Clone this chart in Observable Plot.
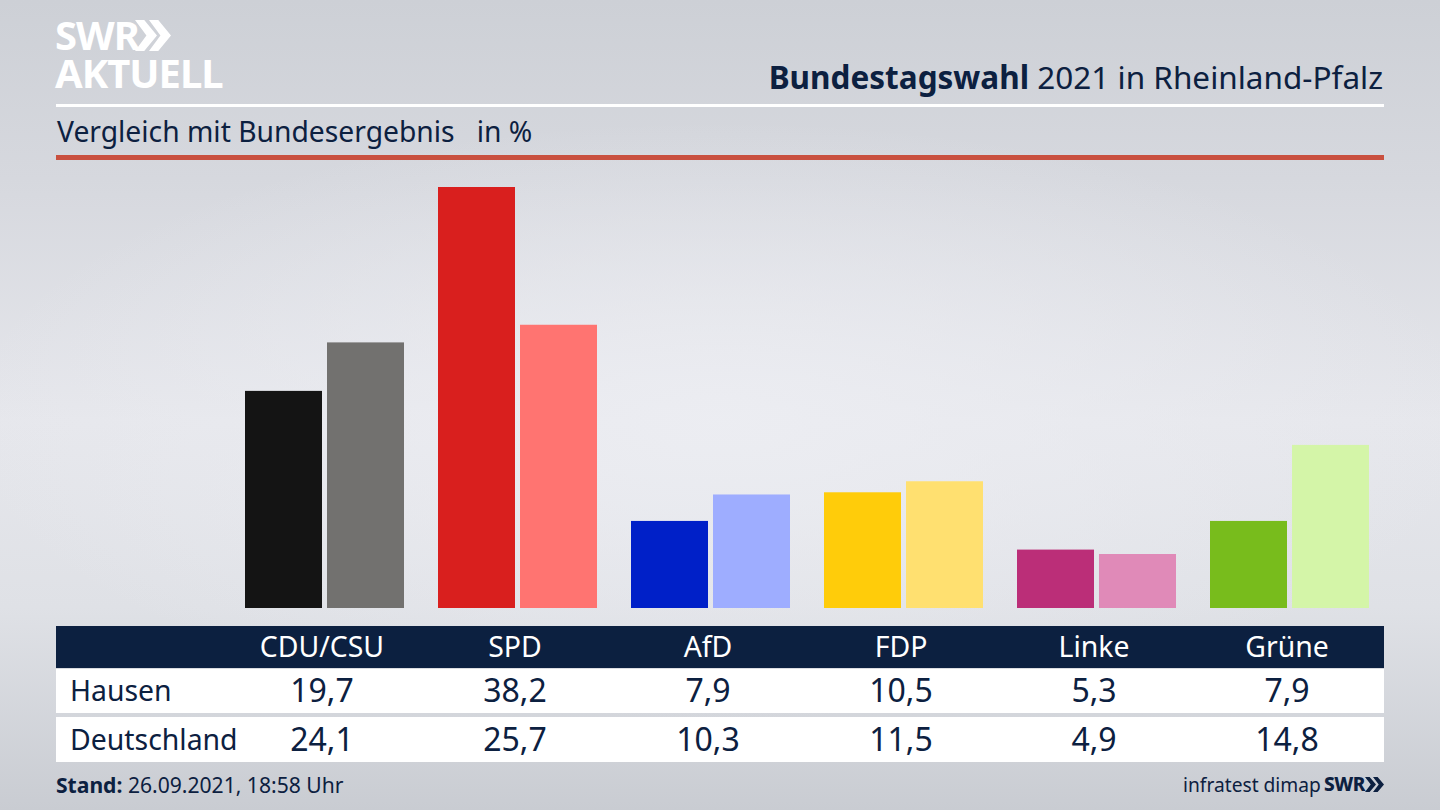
<!DOCTYPE html>
<html lang="de">
<head>
<meta charset="utf-8">
<script src="https://cdn.jsdelivr.net/npm/d3@7"></script>
<script src="https://cdn.jsdelivr.net/npm/@observablehq/plot@0.6"></script>
<style>
html,body{margin:0;padding:0;width:1440px;height:810px;overflow:hidden}
body{position:relative;font-family:"Noto Sans",sans-serif;color:#0c2040;
background:
 radial-gradient(ellipse 760px 300px at 50% 52%, rgba(236,237,242,.95) 0%, rgba(236,237,242,0) 100%),
 linear-gradient(180deg,#cdd0d6 0%,#d6d8de 22%,#e6e7ec 52%,#dfe1e6 75%,#c9ccd2 100%);}
.a{position:absolute;white-space:pre;line-height:1}
.band{position:absolute;left:56px;width:1328px}
#chart{position:absolute;left:0;top:0}
#chart svg{display:block}
.chev{position:absolute;background:#fff;clip-path:polygon(0 0,42% 0,100% 50%,42% 100%,0 100%,52% 50%)}
</style>
</head>
<body>
<div class="a" style="left:55px;top:16px;line-height:38px;font-size:40px;font-weight:700;color:#fff;letter-spacing:-1px">SWR
AKTUELL</div>
<div class="chev" style="left:135px;top:20px;width:22px;height:31px"></div>
<div class="chev" style="left:149px;top:20px;width:22px;height:31px"></div>
<div class="a" style="right:57px;top:61px;font-size:31.5px"><b>Bundestagswahl</b> 2021 in Rheinland-Pfalz</div>
<div class="band" style="top:104px;height:3px;background:#fff"></div>
<div class="a" style="left:57px;top:117px;font-size:28.25px">Vergleich mit Bundesergebnis   in %</div>
<div class="band" style="top:155px;height:5px;background:#c9503f"></div>
<div class="band" style="top:626px;height:42px;background:#0c2040"></div>
<div class="band" style="top:669px;height:44px;background:#fff"></div>
<div class="band" style="top:717px;height:45px;background:#fff"></div>
<div class="a" id="r0" style="left:70px;top:676px;font-size:28.4px"></div>
<div class="a" id="r1" style="left:70px;top:725px;font-size:28.4px"></div>
<div class="a" style="left:56px;top:774px;font-size:21.1px"><b>Stand:</b> 26.09.2021, 18:58 Uhr</div>
<div class="a" style="left:1183px;top:775px;font-size:19.2px">infratest dimap</div>
<div class="a" style="left:1324px;top:775px;font-size:19px;font-weight:800;letter-spacing:-.5px">SWR</div>
<div class="chev" style="left:1365px;top:777px;width:11px;height:15px;background:#0c2040"></div>
<div class="chev" style="left:1373px;top:777px;width:11px;height:15px;background:#0c2040"></div>
<div id="chart"></div>
<script>
const parties = ["CDU/CSU", "SPD", "AfD", "FDP", "Linke", "Grüne"];
const seriesNames = ["Hausen", "Deutschland"];
const hausen = [19.7, 38.2, 7.9, 10.5, 5.3, 7.9];
const deutschland = [24.1, 25.7, 10.3, 11.5, 4.9, 14.8];
const coloursHausen = ["#141414", "#d91f1e", "#0020c8", "#ffcc0a", "#bb2e78", "#78bc1c"];
const coloursDeutschland = ["#72716f", "#ff7471", "#9eadff", "#ffe070", "#e08ab8", "#d4f5a8"];

document.getElementById("r0").textContent = seriesNames[0];
document.getElementById("r1").textContent = seriesNames[1];

const rows = parties.flatMap((party, i) => [
  {party, series: seriesNames[0], value: hausen[i], colour: coloursHausen[i]},
  {party, series: seriesNames[1], value: deutschland[i], colour: coloursDeutschland[i]}
]);
const label = d => d.value.toFixed(1).replace(".", ",");
const ink = "#0c2040";

const chart = Plot.plot({
  width: 1440,
  height: 810,
  marginTop: 187,
  marginBottom: 202,
  marginLeft: 228,
  marginRight: 54,
  style: {background: "transparent", fontFamily: "'Noto Sans',sans-serif"},
  fx: {domain: parties, paddingInner: 0, paddingOuter: 0, round: false, label: null},
  x: {domain: seriesNames, paddingInner: 5 / 82, paddingOuter: 34 / 164, round: false, axis: null},
  y: {domain: [0, 38.2], axis: null},
  marks: [
    Plot.barY(rows, {fx: "party", x: "series", y: "value", fill: "colour"}),
    Plot.axisFx({anchor: "bottom", tickSize: 0, tickPadding: 0, dy: 39, dx: -3, fontSize: 28.4, color: "#fff", fill: "#fff", label: null, lineAnchor: "middle"}),
    Plot.text(rows.filter(d => d.series === seriesNames[0]), {fx: "party", text: label, frameAnchor: "bottom", lineAnchor: "middle", dy: 83, dx: -3, fontSize: 32, fill: ink}),
    Plot.text(rows.filter(d => d.series === seriesNames[1]), {fx: "party", text: label, frameAnchor: "bottom", lineAnchor: "middle", dy: 132, dx: -3, fontSize: 32, fill: ink})
  ]
});
document.getElementById("chart").appendChild(chart);
</script>
</body>
</html>
